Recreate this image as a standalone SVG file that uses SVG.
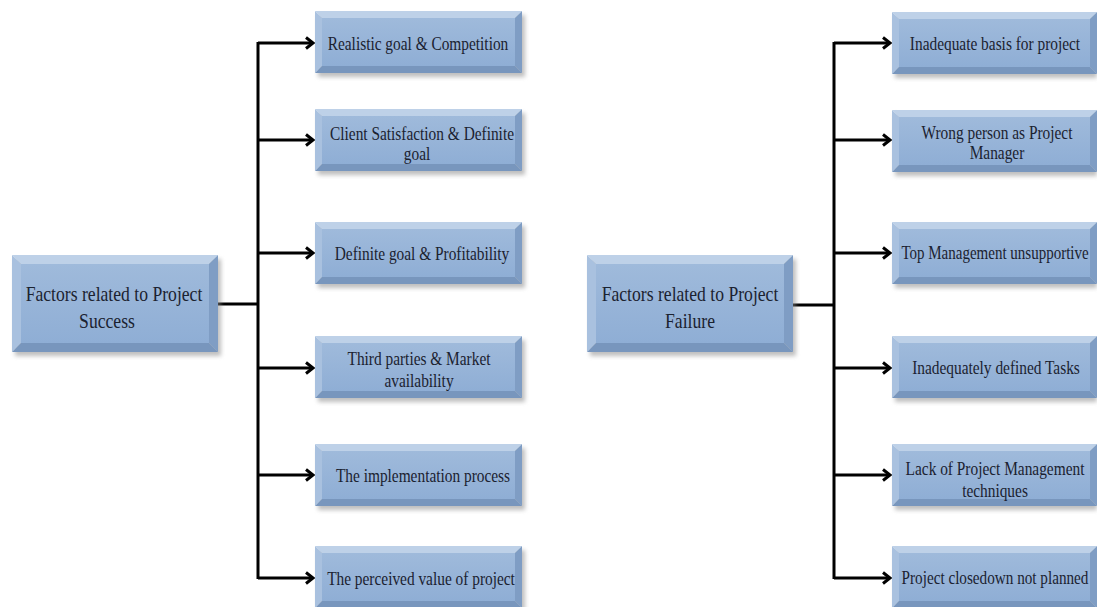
<svg xmlns="http://www.w3.org/2000/svg" xmlns:xlink="http://www.w3.org/1999/xlink" width="1097" height="607" viewBox="0 0 1097 607">
<style>
.t{font-family:"Liberation Serif","Times New Roman",serif;fill:#1b2230;text-anchor:middle;font-size:19px}
.tm{font-size:21px}
.c{stroke:#000;stroke-width:3;fill:none}
.bt{fill:#bed1e8}.bl{fill:#a9c1df}.br{fill:#7f9dc4}.bb{fill:#7896bd}.bc{fill:url(#g)}
</style>
<defs>
<linearGradient id="g" x1="0" y1="0" x2="0" y2="1">
<stop offset="0" stop-color="#9fbadb"/><stop offset="1" stop-color="#8faed5"/>
</linearGradient>
<filter id="sh" x="-10%" y="-10%" width="130%" height="140%"><feGaussianBlur stdDeviation="2"/></filter>
<symbol id="cb" viewBox="0 0 207 62" width="207" height="62" overflow="visible">
<rect x="3" y="4" width="207" height="62" fill="#8a8a8a" opacity="0.55" filter="url(#sh)"/>
<polygon class="bt" points="0,0 207,0 200,7 7,7"/>
<polygon class="bl" points="0,0 7,7 7,55 0,62"/>
<polygon class="br" points="207,0 207,62 200,55 200,7"/>
<polygon class="bb" points="0,62 7,55 200,55 207,62"/>
<rect class="bc" x="7" y="7" width="193" height="48"/>
</symbol>
<symbol id="cr" viewBox="0 0 205 62" width="205" height="62" overflow="visible">
<rect x="3" y="4" width="202" height="62" fill="#8a8a8a" opacity="0.55" filter="url(#sh)"/>
<polygon class="bt" points="0,0 205,0 198,7 7,7"/>
<polygon class="bl" points="0,0 7,7 7,55 0,62"/>
<polygon class="br" points="205,0 205,62 198,55 198,7"/>
<polygon class="bb" points="0,62 7,55 198,55 205,62"/>
<rect class="bc" x="7" y="7" width="191" height="48"/>
</symbol>
<symbol id="mb" viewBox="0 0 206 97" width="206" height="97" overflow="visible">
<rect x="3" y="4" width="206" height="97" fill="#8a8a8a" opacity="0.55" filter="url(#sh)"/>
<polygon class="bt" points="0,0 206,0 197,9 9,9"/>
<polygon class="bl" points="0,0 9,9 9,88 0,97"/>
<polygon class="br" points="206,0 206,97 197,88 197,9"/>
<polygon class="bb" points="0,97 9,88 197,88 206,97"/>
<rect class="bc" x="9" y="9" width="188" height="79"/>
</symbol>
<marker id="ah" markerWidth="14" markerHeight="14" refX="10" refY="7" orient="auto" markerUnits="userSpaceOnUse">
<path d="M3,1.5 L10,7 L3,12.5" fill="none" stroke="#000" stroke-width="3"/>
</marker>
</defs>

<g id="connectors">
<path class="c" d="M218,304 H258"/>
<path class="c" d="M258,42 V579"/>
<path class="c" d="M258,43 H313" marker-end="url(#ah)"/>
<path class="c" d="M258,140 H313" marker-end="url(#ah)"/>
<path class="c" d="M258,253 H313" marker-end="url(#ah)"/>
<path class="c" d="M258,368 H313" marker-end="url(#ah)"/>
<path class="c" d="M258,475 H313" marker-end="url(#ah)"/>
<path class="c" d="M258,578 H313" marker-end="url(#ah)"/>
<path class="c" d="M793,305 H834"/>
<path class="c" d="M834,42 V579"/>
<path class="c" d="M834,43 H890" marker-end="url(#ah)"/>
<path class="c" d="M834,140 H890" marker-end="url(#ah)"/>
<path class="c" d="M834,253 H890" marker-end="url(#ah)"/>
<path class="c" d="M834,368 H890" marker-end="url(#ah)"/>
<path class="c" d="M834,475 H890" marker-end="url(#ah)"/>
<path class="c" d="M834,578 H890" marker-end="url(#ah)"/>
</g>

<g id="success">
<use xlink:href="#mb" x="12" y="255"/>
<text class="t tm" transform="translate(114,301) scale(0.84,1)">Factors related to Project</text>
<text class="t tm" transform="translate(107,328) scale(0.84,1)">Success</text>
</g>
<g id="s1">
<use xlink:href="#cb" x="315" y="11"/>
<text class="t" transform="translate(418,50) scale(0.81,1)">Realistic goal &amp; Competition</text>
</g>
<g id="s2">
<use xlink:href="#cb" x="315" y="109"/>
<text class="t" transform="translate(422,140) scale(0.81,1)">Client Satisfaction &amp; Definite</text>
<text class="t" transform="translate(417,160) scale(0.81,1)">goal</text>
</g>
<g id="s3">
<use xlink:href="#cb" x="315" y="222"/>
<text class="t" transform="translate(422,260) scale(0.81,1)">Definite goal &amp; Profitability</text>
</g>
<g id="s4">
<use xlink:href="#cb" x="315" y="336"/>
<text class="t" transform="translate(419,365) scale(0.81,1)">Third parties &amp; Market</text>
<text class="t" transform="translate(419,387) scale(0.81,1)">availability</text>
</g>
<g id="s5">
<use xlink:href="#cb" x="315" y="444"/>
<text class="t" transform="translate(423,482) scale(0.81,1)">The implementation process</text>
</g>
<g id="s6">
<use xlink:href="#cb" x="315" y="546"/>
<text class="t" transform="translate(421,585) scale(0.81,1)">The perceived value of project</text>
</g>

<g id="failure">
<use xlink:href="#mb" x="587" y="255"/>
<text class="t tm" transform="translate(690,301) scale(0.84,1)">Factors related to Project</text>
<text class="t tm" transform="translate(690,328) scale(0.84,1)">Failure</text>
</g>
<g id="f1">
<use xlink:href="#cr" x="892" y="12"/>
<text class="t" transform="translate(995,50) scale(0.81,1)">Inadequate basis for project</text>
</g>
<g id="f2">
<use xlink:href="#cr" x="892" y="110"/>
<text class="t" transform="translate(997,139) scale(0.81,1)">Wrong person as Project</text>
<text class="t" transform="translate(997,159) scale(0.81,1)">Manager</text>
</g>
<g id="f3">
<use xlink:href="#cr" x="892" y="222"/>
<text class="t" transform="translate(995,259) scale(0.79,1)">Top Management unsupportive</text>
</g>
<g id="f4">
<use xlink:href="#cr" x="892" y="336"/>
<text class="t" transform="translate(996,374) scale(0.81,1)">Inadequately defined Tasks</text>
</g>
<g id="f5">
<use xlink:href="#cr" x="892" y="444"/>
<text class="t" transform="translate(995,475) scale(0.81,1)">Lack of Project Management</text>
<text class="t" transform="translate(995,497) scale(0.81,1)">techniques</text>
</g>
<g id="f6">
<use xlink:href="#cr" x="892" y="546"/>
<text class="t" transform="translate(995,584) scale(0.8,1)">Project closedown not planned</text>
</g>
</svg>
